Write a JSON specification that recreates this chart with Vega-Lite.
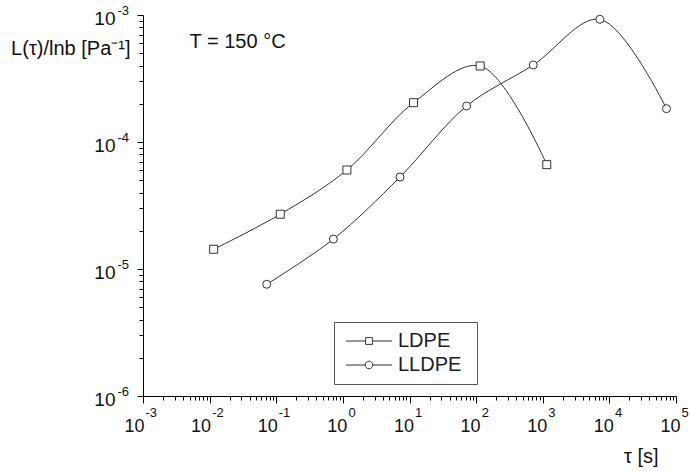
{
  "$schema": "https://vega.github.io/schema/vega-lite/v6.json",
  "autosize": {"type": "none"},
  "padding": {"left": 143, "top": 15, "right": 14, "bottom": 75},
  "width": 533,
  "height": 381,
  "background": "white",
  "config": {
    "view": {"stroke": null},
    "font": "Liberation Sans",
    "axis": {
      "grid": false,
      "domainColor": "#000",
      "tickColor": "#000",
      "labelColor": "#111",
      "titleColor": "#111",
      "labelFont": "Liberation Sans",
      "titleFont": "Liberation Sans",
      "titleFontWeight": "normal",
      "labelFlush": false,
      "labelOverlap": false
    }
  },
  "datasets": {
    "relax": [
      {"series": "LDPE", "tau": 0.0115, "L": 1.43e-5},
      {"series": "LDPE", "tau": 0.115, "L": 2.70e-5},
      {"series": "LDPE", "tau": 1.15, "L": 6.02e-5},
      {"series": "LDPE", "tau": 11.5, "L": 2.04e-4},
      {"series": "LDPE", "tau": 115, "L": 3.97e-4},
      {"series": "LDPE", "tau": 1150, "L": 6.63e-5},
      {"series": "LLDPE", "tau": 0.072, "L": 7.58e-6},
      {"series": "LLDPE", "tau": 0.72, "L": 1.72e-5},
      {"series": "LLDPE", "tau": 7.2, "L": 5.30e-5},
      {"series": "LLDPE", "tau": 72, "L": 1.92e-4},
      {"series": "LLDPE", "tau": 720, "L": 4.04e-4},
      {"series": "LLDPE", "tau": 7200, "L": 9.25e-4},
      {"series": "LLDPE", "tau": 72000, "L": 1.83e-4}
    ],
    "note": [
      {"text": "T = 150 °C", "tau": 0.005, "L": 0.00055}
    ]
  },
  "resolve": {"axis": {"x": "independent", "y": "independent"}},
  "layer": [
    {
      "data": {"name": "relax"},
      "mark": {"type": "line", "interpolate": "catmull-rom", "stroke": "#333", "strokeWidth": 1},
      "encoding": {
        "x": {
          "field": "tau", "type": "quantitative",
          "scale": {"type": "log", "domain": [0.001, 100000], "nice": false},
          "axis": {
            "orient": "bottom",
            "values": [0.001, 0.01, 0.1, 1, 10, 100, 1000, 10000, 100000],
            "labelExpr": "'10'",
            "tickSize": 7,
            "labelFontSize": 18,
            "labelAlign": "right",
            "labelBaseline": "alphabetic",
            "labelPadding": 28,
            "labelOffset": {"condition": {"test": "datum.value < 1", "value": 1}, "value": 4},
            "title": "τ [s]",
            "titleFontSize": 20,
            "titleAlign": "right",
            "titleBaseline": "alphabetic",
            "titleX": 515,
            "titleY": 66
          }
        },
        "y": {
          "field": "L", "type": "quantitative",
          "scale": {"type": "log", "domain": [0.000001, 0.001], "nice": false},
          "axis": {
            "orient": "left",
            "values": [0.000001, 0.00001, 0.0001, 0.001],
            "labelExpr": "'10'",
            "tickSize": 6,
            "labelFontSize": 19,
            "labelAlign": "right",
            "labelBaseline": "alphabetic",
            "labelPadding": 22,
            "labelOffset": 9,
            "title": "L(τ)/lnb [Pa⁻¹]",
            "titleFontSize": 20,
            "titleAngle": 0,
            "titleAlign": "right",
            "titleBaseline": "alphabetic",
            "titleX": -13,
            "titleY": 39
          }
        },
        "detail": {"field": "series"}
      }
    },
    {
      "data": {"name": "relax"},
      "mark": {"type": "point", "size": 64, "fill": "white", "stroke": "#333", "strokeWidth": 1, "opacity": 1, "filled": false},
      "encoding": {
        "x": {
          "field": "tau", "type": "quantitative",
          "scale": {"type": "log", "domain": [0.001, 100000], "nice": false},
          "axis": {
            "orient": "bottom",
            "values": [0.002, 0.003, 0.004, 0.005, 0.006, 0.007, 0.008, 0.009,
                       0.02, 0.03, 0.04, 0.05, 0.06, 0.07, 0.08, 0.09,
                       0.2, 0.3, 0.4, 0.5, 0.6, 0.7, 0.8, 0.9,
                       2, 3, 4, 5, 6, 7, 8, 9,
                       20, 30, 40, 50, 60, 70, 80, 90,
                       200, 300, 400, 500, 600, 700, 800, 900,
                       2000, 3000, 4000, 5000, 6000, 7000, 8000, 9000,
                       20000, 30000, 40000, 50000, 60000, 70000, 80000, 90000],
            "labels": false,
            "domain": false,
            "tickSize": 4,
            "title": null
          }
        },
        "y": {
          "field": "L", "type": "quantitative",
          "scale": {"type": "log", "domain": [0.000001, 0.001], "nice": false},
          "axis": {
            "orient": "left",
            "values": [2e-6, 3e-6, 4e-6, 5e-6, 6e-6, 7e-6, 8e-6, 9e-6,
                       2e-5, 3e-5, 4e-5, 5e-5, 6e-5, 7e-5, 8e-5, 9e-5,
                       2e-4, 3e-4, 4e-4, 5e-4, 6e-4, 7e-4, 8e-4, 9e-4],
            "labels": false,
            "domain": false,
            "tickSize": 4,
            "title": null
          }
        },
        "shape": {"condition": {"test": "datum.series === 'LDPE'", "value": "square"}, "value": "circle"}
      }
    },
    {
      "data": {"name": "relax"},
      "mark": {"type": "point", "size": 64, "fill": "white", "stroke": "#333", "strokeWidth": 1, "opacity": 0, "filled": false},
      "encoding": {
        "x": {"field": "tau", "type": "quantitative", "scale": {"type": "log", "domain": [0.001, 100000], "nice": false}, "axis": null},
        "y": {"field": "L", "type": "quantitative", "scale": {"type": "log", "domain": [0.000001, 0.001], "nice": false}, "axis": null},
        "shape": {
          "field": "series", "type": "nominal",
          "scale": {
            "domain": ["LDPE", "LLDPE"],
            "range": [
              "M-5.8,0H-0.85M0.85,0H5.8M-0.85,-0.85H0.85V0.85H-0.85Z",
              "M-5.8,0H-0.95M0.95,0H5.8M0.95,0A0.95,0.95 0 1,1 -0.95,0A0.95,0.95 0 1,1 0.95,0Z"
            ]
          },
          "legend": {
            "title": "\u00a0",
            "titleOrient": "right",
            "titleFontSize": 10,
            "titlePadding": 7,
            "orient": "none",
            "legendX": 191,
            "legendY": 307,
            "padding": 9,
            "strokeColor": "#555",
            "fillColor": "white",
            "cornerRadius": 0,
            "symbolSize": 64,
            "symbolOpacity": 1,
            "symbolStrokeWidth": 1,
            "symbolOffset": 16,
            "labelFont": "Liberation Sans",
            "labelFontSize": 20,
            "labelColor": "#1c1c2c",
            "labelOffset": 19,
            "rowPadding": 4
          }
        }
      }
    },
    {
      "data": {"name": "note"},
      "mark": {"type": "text", "align": "left", "baseline": "alphabetic", "font": "Liberation Sans", "fontSize": 20, "color": "#111"},
      "encoding": {
        "text": {"field": "text"},
        "x": {
          "field": "tau", "type": "quantitative",
          "scale": {"type": "log", "domain": [0.001, 100000], "nice": false},
          "axis": {
            "orient": "bottom",
            "values": [0.001, 0.01, 0.1, 1, 10, 100, 1000, 10000, 100000],
            "labelExpr": "'' + round(log(datum.value) / LN10)",
            "ticks": false,
            "domain": false,
            "labelFontSize": 13,
            "labelAlign": "left",
            "labelBaseline": "alphabetic",
            "labelPadding": 20,
            "labelOffset": {"condition": {"test": "datum.value < 1", "value": 2}, "value": 5},
            "title": null
          }
        },
        "y": {
          "field": "L", "type": "quantitative",
          "scale": {"type": "log", "domain": [0.000001, 0.001], "nice": false},
          "axis": {
            "orient": "left",
            "values": [0.000001, 0.00001, 0.0001, 0.001],
            "labelExpr": "'' + round(log(datum.value) / LN10)",
            "ticks": false,
            "domain": false,
            "labelFontSize": 13,
            "labelAlign": "left",
            "labelBaseline": "alphabetic",
            "labelPadding": 26,
            "labelOffset": -1,
            "title": null
          }
        }
      }
    }
  ]
}
